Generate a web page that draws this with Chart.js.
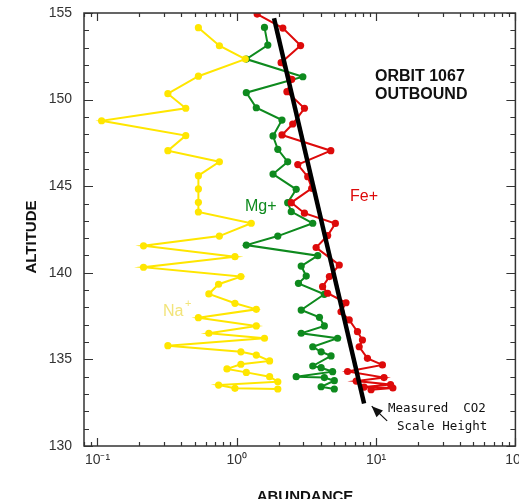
<!DOCTYPE html>
<html>
<head>
<meta charset="utf-8">
<script src="https://cdn.jsdelivr.net/npm/chart.js@4.4.0/dist/chart.umd.min.js"></script>
<style>
  html, body { margin: 0; padding: 0; background: #fff; }
  #wrap { width: 519px; height: 499px; }
</style>
</head>
<body>
<div id="wrap"><canvas id="c" width="519" height="499"></canvas></div>
<script>
// values (abundance, altitude)
var naAbund = [0.53, 0.75, 1.15, 0.53, 0.32, 0.43, 0.107, 0.43, 0.32, 0.75, 0.53, 0.53, 0.53, 0.53, 1.27, 0.75, 0.214, 0.97, 0.214, 1.07,
               0.74, 0.63, 0.97, 1.38, 0.53, 1.38, 0.63, 1.58, 0.32, 1.07, 1.38, 1.72, 1.07, 0.85, 1.17, 1.72, 1.97, 0.74, 0.97, 1.97]
var naAlt = [154.15, 153.11, 152.34, 151.35, 150.34, 149.50, 148.78, 147.92, 147.05, 146.41, 145.61, 144.84, 144.07, 143.51, 142.86, 142.12, 141.56, 140.93, 140.32, 139.78,
             139.34, 138.78, 138.24, 137.89, 137.41, 136.93, 136.51, 136.22, 135.79, 135.44, 135.25, 134.91, 134.72, 134.45, 134.25, 134.00, 133.71, 133.52, 133.33, 133.29]

var mgAbund = [1.58, 1.67, 1.17, 2.98, 1.17, 1.38, 2.11, 1.82, 1.97, 2.32, 1.82, 2.67, 2.32, 2.46, 3.51, 1.97, 1.17, 3.81, 2.90,
               3.15, 2.77, 4.25, 2.90, 3.92, 4.25, 2.90, 5.29, 3.51, 4.03, 4.75, 3.51, 4.03, 4.87, 2.67, 4.25, 5.01, 4.03, 5.01]
var mgAlt = [154.17, 153.15, 152.34, 151.32, 150.40, 149.53, 148.82, 147.90, 147.13, 146.41, 145.70, 144.82, 144.05, 143.53, 142.86, 142.12, 141.60, 140.99, 140.39,
             139.81, 139.39, 138.76, 137.85, 137.43, 136.93, 136.51, 136.22, 135.73, 135.44, 135.20, 134.62, 134.52, 134.29, 134.00, 133.95, 133.77, 133.42, 133.29]

var feAbund = [1.40, 2.14, 2.87, 2.08, 2.48, 2.29, 3.06, 2.52, 2.11, 4.73, 2.74, 3.23, 3.45, 2.46, 3.06, 5.10, 4.49, 3.71, 5.44,
               4.62, 4.13, 4.49, 6.08, 5.60, 6.41, 7.35, 7.98, 7.56, 8.67, 11.1, 6.24, 11.4, 7.2, 12.7, 8.2, 13.2, 9.2]
var feAlt = [154.94, 154.13, 153.12, 152.13, 151.17, 150.46, 149.50, 148.59, 147.96, 147.05, 146.25, 145.55, 144.88, 144.05, 143.44, 142.85, 142.15, 141.46, 140.45,
             139.78, 139.20, 138.82, 138.27, 137.75, 137.28, 136.60, 136.12, 135.73, 135.06, 134.68, 134.30, 133.95, 133.75, 133.55, 133.40, 133.35, 133.25]

// CO2 scale height fit line
var co2Abund = [1.85, 8.2]
var co2Alt = [154.7, 132.45]

var xTicks = [0.1, 1, 10, 100]
var xTickLabels = ['10\u207B\u00B9', '10\u2070', '10\u00B9', '10\u00B2']
var yTicks = [130, 135, 140, 145, 150, 155]

var YELLOW = '#ffe600', GREEN = '#0e8a1e', RED = '#dd0a0a'
var AXIS = '#333333'

function pts(xs, ys) {
  var out = []
  for (var i = 0; i < xs.length; i++) out.push({ x: xs[i], y: ys[i] })
  return out
}

function series(label, xs, ys, color, order) {
  return {
    label: label, data: pts(xs, ys), showLine: true,
    borderColor: color, backgroundColor: color, borderWidth: 2,
    pointRadius: 3.6, pointHoverRadius: 3.6, pointBorderWidth: 0, order: order
  }
}

// inward ticks, box frame and the text annotations
var decorPlugin = {
  id: 'decor',
  afterDraw: function (chart) {
    var ctx = chart.ctx, a = chart.chartArea
    var xs = chart.scales.x, ys = chart.scales.y
    ctx.save()
    ctx.strokeStyle = AXIS
    ctx.lineWidth = 1.5
    ctx.strokeRect(a.left, a.top, a.right - a.left, a.bottom - a.top)

    ctx.lineWidth = 1.2
    ctx.beginPath()
    for (var d = -2; d <= 2; d++) {
      for (var k = 1; k <= 9; k++) {
        var v = k * Math.pow(10, d)
        if (v < xs.min || v > xs.max) continue
        var px = Math.round(xs.getPixelForValue(v)) + 0.5
        var len = (k === 1) ? 8 : 4
        ctx.moveTo(px, a.bottom); ctx.lineTo(px, a.bottom - len)
        ctx.moveTo(px, a.top); ctx.lineTo(px, a.top + len)
      }
    }
    for (var t = 130; t <= 155; t++) {
      var py = Math.round(ys.getPixelForValue(t)) + 0.5
      var l2 = (t % 5 === 0) ? 9 : 5
      ctx.moveTo(a.left, py); ctx.lineTo(a.left + l2, py)
      ctx.moveTo(a.right, py); ctx.lineTo(a.right - l2, py)
    }
    ctx.stroke()

    // axis titles
    ctx.fillStyle = '#111'
    ctx.font = 'bold 15px "Liberation Sans", Arial, sans-serif'
    ctx.textAlign = 'center'
    ctx.textBaseline = 'alphabetic'
    ctx.fillText('ABUNDANCE', 305, 501)
    ctx.save()
    ctx.translate(36, 237)
    ctx.rotate(-Math.PI / 2)
    ctx.fillText('ALTITUDE', 0, 0)
    ctx.restore()

    // orbit title
    ctx.textAlign = 'left'
    ctx.font = 'bold 16px "Liberation Sans", Arial, sans-serif'
    ctx.fillText('ORBIT 1067', 375, 81)
    ctx.fillText('OUTBOUND', 375, 99)

    // series labels
    ctx.font = '16px "Liberation Sans", Arial, sans-serif'
    ctx.fillStyle = GREEN
    ctx.fillText('Mg+', 245, 211)
    ctx.fillStyle = RED
    ctx.fillText('Fe+', 350, 201)
    ctx.fillStyle = '#f2e47a'
    ctx.fillText('Na', 163, 316)
    ctx.font = '11px "Liberation Sans", Arial, sans-serif'
    ctx.fillText('+', 185, 307)

    // arrow to the end of the CO2 line
    var tipX = xs.getPixelForValue(9.3), tipY = ys.getPixelForValue(132.3)
    var tailX = xs.getPixelForValue(12.0), tailY = ys.getPixelForValue(131.45)
    var ang = Math.atan2(tipY - tailY, tipX - tailX)
    ctx.strokeStyle = '#111'
    ctx.fillStyle = '#111'
    ctx.lineWidth = 1.2
    ctx.beginPath()
    ctx.moveTo(tailX, tailY); ctx.lineTo(tipX, tipY)
    ctx.stroke()
    ctx.beginPath()
    ctx.moveTo(tipX, tipY)
    ctx.lineTo(tipX - 12 * Math.cos(ang - 0.4), tipY - 12 * Math.sin(ang - 0.4))
    ctx.lineTo(tipX - 12 * Math.cos(ang + 0.4), tipY - 12 * Math.sin(ang + 0.4))
    ctx.closePath()
    ctx.fill()

    ctx.font = '12.5px "DejaVu Sans Mono", monospace'
    ctx.fillText('Measured  CO2', 388, 412)
    ctx.fillText('Scale Height', 397, 430)
    ctx.restore()
  }
}

var chartConfig = {
  type: 'scatter',
  data: {
    datasets: [
      { label: 'CO2', data: pts(co2Abund, co2Alt), showLine: true, borderColor: '#000', borderWidth: 4.5,
        pointRadius: 0, order: 0 },
      series('Na+', naAbund, naAlt, YELLOW, 1),
      series('Fe+', feAbund, feAlt, RED, 2),
      series('Mg+', mgAbund, mgAlt, GREEN, 3)
    ]
  },
  options: {
    responsive: false,
    animation: false,
    devicePixelRatio: 1,
    layout: { padding: { left: 0, top: 13, right: 2, bottom: 0 } },
    plugins: { legend: { display: false }, tooltip: { enabled: false } },
    scales: {
      x: {
        type: 'logarithmic', min: 0.08, max: 100,
        grid: { display: false, drawTicks: false },
        border: { display: false },
        afterFit: function (s) { s.height = 53; s.paddingLeft = 0; s.paddingRight = 0 },
        afterBuildTicks: function (s) { s.ticks = xTicks.map(function (v) { return { value: v } }) },
        ticks: {
          autoSkip: false, maxRotation: 0, padding: 6, color: AXIS,
          font: { family: '"Liberation Sans", Arial, sans-serif', size: 14 },
          callback: function (v) { var i = xTicks.indexOf(v); return i >= 0 ? xTickLabels[i] : '' }
        }
      },
      y: {
        type: 'linear', min: 130, max: 155,
        grid: { display: false, drawTicks: false },
        border: { display: false },
        afterFit: function (s) { s.width = 84; s.paddingTop = 0; s.paddingBottom = 0 },
        afterBuildTicks: function (s) { s.ticks = yTicks.map(function (v) { return { value: v } }) },
        ticks: {
          padding: 12, color: AXIS,
          font: { family: '"Liberation Sans", Arial, sans-serif', size: 14 }
        }
      }
    }
  },
  plugins: [decorPlugin]
}

new Chart(document.getElementById('c'), chartConfig)
</script>
</body>
</html>
